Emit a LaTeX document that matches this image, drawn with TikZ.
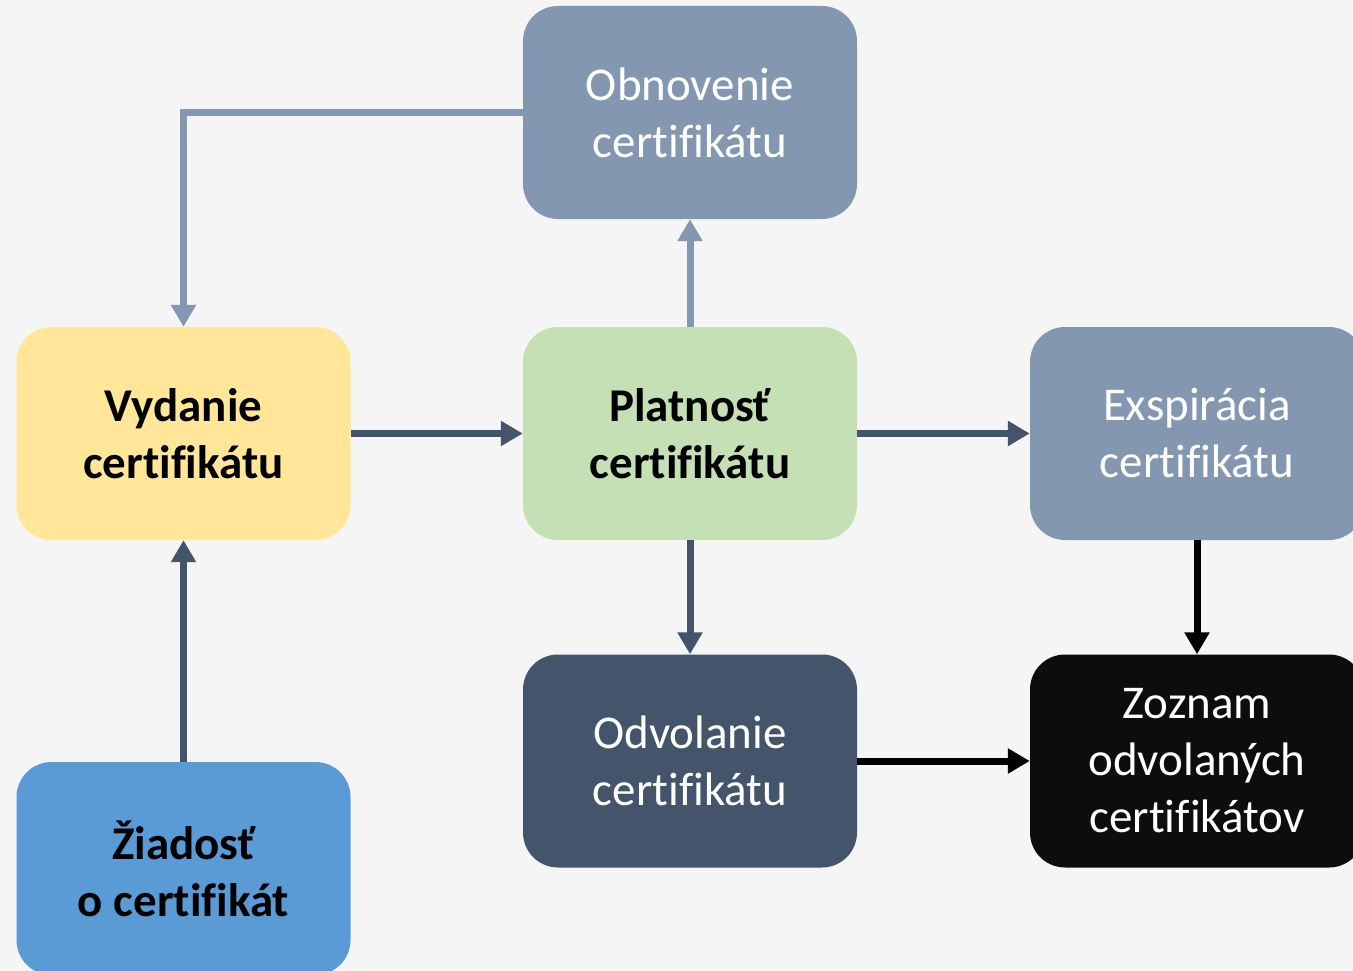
\documentclass[tikz,border=0pt]{standalone}
\usepackage{fontspec}
\setmainfont[Ligatures=NoCommon]{Carlito}
\usetikzlibrary{arrows.meta}
\definecolor{bgc}{HTML}{F5F5F5}
\definecolor{slate}{HTML}{8497B0}
\definecolor{navy}{HTML}{44546A}
\definecolor{gold}{HTML}{FFE699}
\definecolor{mint}{HTML}{C5E0B4}
\definecolor{sky}{HTML}{5B9BD5}
\definecolor{ink}{HTML}{0D0D0D}
\tikzset{
  stage/.style={rounded corners=35pt, minimum width=334pt, minimum height=213pt,
    align=center, inner sep=0pt, font=\fontsize{47}{57}\selectfont},
  boldstage/.style={stage, font=\fontsize{47}{57}\selectfont\bfseries},
  flow/.style={line width=7pt, -{Triangle[width=24pt,length=22pt]}},
}
\begin{document}
\begin{tikzpicture}[x=1pt,y=-1pt]
\fill[bgc] (0,0) rectangle (1353,971);
\useasboundingbox (0,0) rectangle (1353,971);

\node[stage, fill=slate, text=white] (obn) at (690,112.5) {Obnovenie\\certifikátu};
\node[boldstage, fill=gold] (vyd) at (183.5,433.5) {Vydanie\\certifikátu};
\node[boldstage, fill=mint] (plat) at (690,433.5) {Platnosť\\certifikátu};
\node[stage, fill=slate, text=white] (exp) at (1197,433.5) {Exspirácia\\certifikátu};
\node[boldstage, fill=sky] (ziad) at (183.5,868.5) {Žiadosť\\o certifikát};
\node[stage, fill=navy, text=white] (odv) at (690,761) {Odvolanie\\certifikátu};
\node[stage, fill=ink, text=white] (zoz) at (1197,761) {Zoznam\\odvolaných\\certifikátov};

\draw[flow, slate] (obn.west) -| (vyd.north);
\draw[flow, slate] (plat.north) -- (obn.south);
\draw[flow, navy] (vyd.east) -- (plat.west);
\draw[flow, navy] (plat.east) -- (exp.west);
\draw[flow, navy] (plat.south) -- (odv.north);
\draw[flow, navy] (ziad.north) -- (vyd.south);
\draw[flow, black] (exp.south) -- (zoz.north);
\draw[flow, black] (odv.east) -- (zoz.west);
\end{tikzpicture}
\end{document}
